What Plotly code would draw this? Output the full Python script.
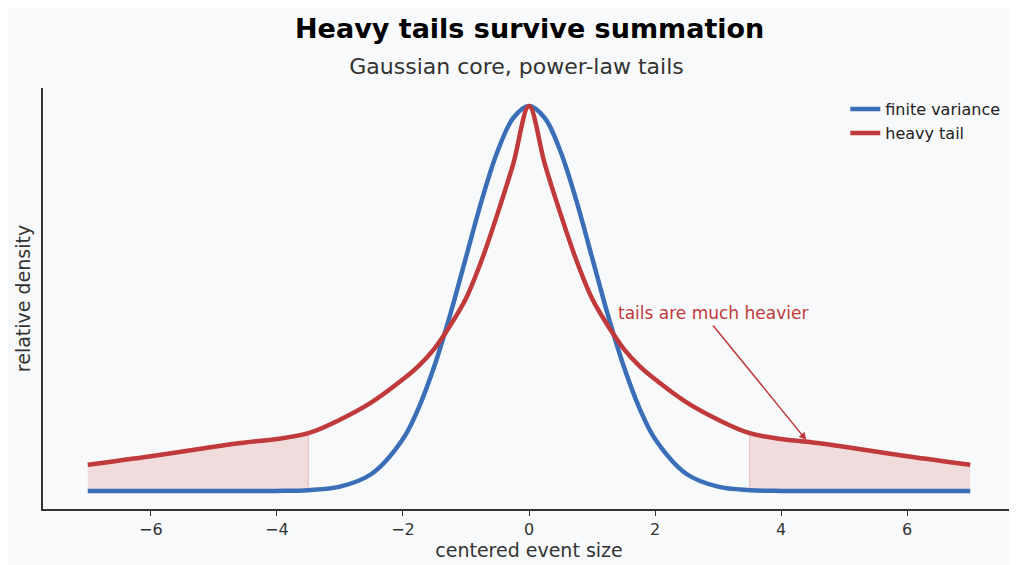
import plotly.graph_objects as go

x_pos = [0, 0.25, 0.5, 0.75, 1, 1.25, 1.5, 1.75, 2, 2.5, 3, 3.5, 4, 4.5, 5, 6, 7]
blue_pos = [1.0, 0.969, 0.882, 0.755, 0.607, 0.458, 0.325, 0.216, 0.135, 0.044, 0.011, 0.002, 0.0, 0.0, 0.0, 0.0, 0.0]
red_pos = [1.0, 0.85, 0.72, 0.6, 0.5, 0.43, 0.37, 0.325, 0.29, 0.23, 0.185, 0.15, 0.135, 0.126, 0.115, 0.09, 0.068]

x = [-v for v in x_pos[:0:-1]] + x_pos
blue = blue_pos[:0:-1] + blue_pos
red = red_pos[:0:-1] + red_pos

RED = "#c0393b"
BLUE = "#3a6fb8"
fig = go.Figure()
for side in (-1, 1):
    xs = [xx for xx in x if side * xx >= 3.5]
    ys = [r for xx, r in zip(x, red) if side * xx >= 3.5]
    fig.add_trace(go.Scatter(x=xs, y=ys, fill="tozeroy", mode="lines", line=dict(width=0, shape="spline"),
                             fillcolor="rgba(192,57,59,0.15)", showlegend=False, hoverinfo="skip"))
    fig.add_trace(go.Scatter(x=[3.5 * side, 3.5 * side], y=[0, red_pos[11]], mode="lines",
                             line=dict(color="rgba(192,57,59,0.25)", width=1), showlegend=False))
fig.add_trace(go.Scatter(x=x, y=blue, mode="lines", name="finite variance",
                         line=dict(color=BLUE, width=4.5, shape="spline")))
fig.add_trace(go.Scatter(x=x, y=red, mode="lines", name="heavy tail",
                         line=dict(color=RED, width=4.5, shape="spline")))

fig.add_annotation(x=4.4, y=0.132, ax=2.92, ay=0.43, xref="x", yref="y", axref="x", ayref="y",
                   text="tails are much heavier", showarrow=True, arrowhead=2, arrowsize=1,
                   arrowwidth=1.5, arrowcolor=RED, font=dict(color=RED, size=17), yanchor="bottom")
fig.add_annotation(x=0.5, y=1.0, xref="paper", yref="paper", yanchor="middle", yshift=60,
                   text="<b>Heavy tails survive summation</b>", showarrow=False,
                   font=dict(size=27, color="black"))
fig.update_layout(
    width=1017, height=565, paper_bgcolor="#f8f9fa", plot_bgcolor="#f8f9fa",
    font=dict(family="DejaVu Sans", color="#333"),
    margin=dict(l=35, r=10, t=80, b=64),
    title=dict(text="Gaussian core, power-law tails", x=0.5, xanchor="center", y=0.897, yanchor="middle",
               font=dict(size=22, color="#333")),
    legend=dict(x=0.99, y=0.99, xanchor="right", yanchor="top", bgcolor="rgba(0,0,0,0)",
                font=dict(size=16, color="#222")),
    xaxis=dict(range=[-7.71, 7.71], tickvals=[-6, -4, -2, 0, 2, 4, 6],
               ticktext=["\u22126", "\u22124", "\u22122", "0", "2", "4", "6"],
               showgrid=False, zeroline=False, showline=True, linecolor="#333", linewidth=2,
               ticks="outside", ticklen=5, tickcolor="#333", tickfont=dict(size=16),
               title=dict(text="centered event size", font=dict(size=19), standoff=5)),
    yaxis=dict(range=[-0.047, 1.047], showticklabels=False, showgrid=False, zeroline=False,
               showline=True, linecolor="#333", linewidth=2,
               title=dict(text="relative density", font=dict(size=19), standoff=5)),
)
fig.write_html("out.html")
